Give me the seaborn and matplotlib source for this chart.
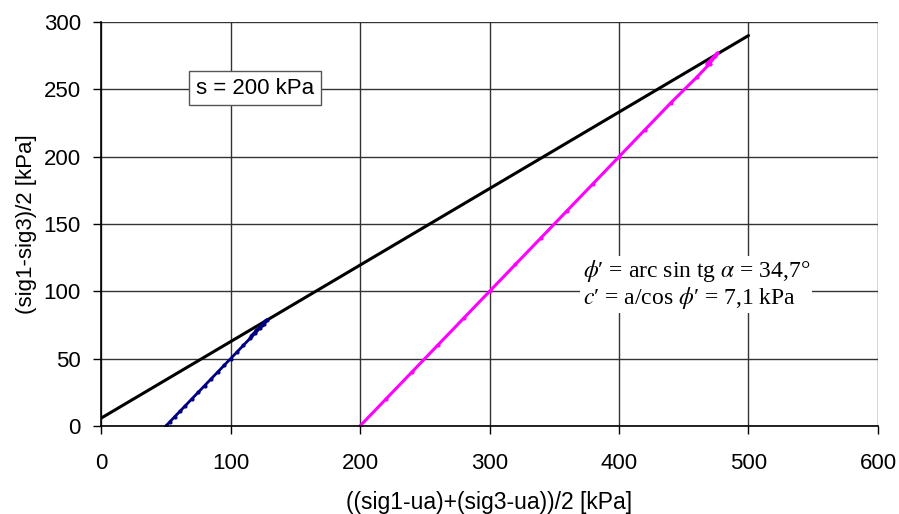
import seaborn as sns
import matplotlib.pyplot as plt
import pandas as pd

# test at suction s = 200 kPa
low_p = [50, 53, 57, 61, 65, 70, 75, 80, 85, 90, 95, 100, 105, 110, 115, 119, 123, 126, 128, 127, 124, 120, 116]
low_q = [0, 3, 7, 11, 15, 20, 25, 30, 35, 40, 45, 50, 55, 60, 65, 69, 73, 76, 79, 78, 75, 71, 67]
high_p = [200, 220, 240, 260, 280, 300, 320, 340, 360, 380, 400, 420, 440, 460, 470, 476, 474, 468]
high_q = [0, 20, 40, 60, 80, 100, 120, 140, 160, 180, 200, 220, 240, 259, 269, 277, 275, 269]
env_p = [0, 500]
env_q = [5.8, 290]

low = pd.DataFrame({'p': low_p, 'q': low_q})
high = pd.DataFrame({'p': high_p, 'q': high_q})
env = pd.DataFrame({'p': env_p, 'q': env_q})

sns.set_style('ticks')
plt.rcParams['font.family'] = ['Liberation Sans', 'DejaVu Sans']
plt.rcParams['mathtext.fontset'] = 'stix'
plt.rcParams['text.color'] = 'black'
plt.rcParams['axes.labelcolor'] = 'black'

fig = plt.figure(figsize=(8.99, 5.14), dpi=100)
ax = fig.add_axes([0.1124, 0.1712, 0.8642, 0.7858])

sns.lineplot(data=env, x='p', y='q', ax=ax, color='black', linewidth=2.2, sort=False)
sns.lineplot(data=low, x='p', y='q', ax=ax, color='#000080', linewidth=2, sort=False,
             marker='o', markersize=3, markeredgewidth=0)
sns.lineplot(data=high, x='p', y='q', ax=ax, color='#FF00FF', linewidth=2.2, sort=False,
             marker='o', markersize=3, markeredgewidth=0)

ax.set_xlim(0, 600)
ax.set_ylim(0, 300)
ax.set_xticks(range(0, 601, 100))
ax.set_yticks(range(0, 301, 50))
ax.grid(True, color='#333333', linewidth=1)
ax.set_axisbelow(True)
for side in ['top', 'right']:
    ax.spines[side].set_visible(False)
for side in ['left', 'bottom']:
    ax.spines[side].set_color('black')
    ax.spines[side].set_linewidth(1.2)
ax.tick_params(direction='out', length=5.5, width=1, colors='black', labelsize=16)
ax.tick_params(axis='x', pad=14)
ax.tick_params(axis='y', pad=9)

ax.set_xlabel('((sig1-ua)+(sig3-ua))/2 [kPa]', fontsize=16.5, labelpad=12)
ax.set_ylabel('(sig1-sig3)/2 [kPa]', fontsize=16, labelpad=5)

ax.text(119, 251, 's = 200 kPa', fontsize=16, ha='center', va='center',
        bbox=dict(boxstyle='square,pad=0.3', facecolor='white', edgecolor='#555555', linewidth=1))

ax.text(372, 105, "$\\phi$′ = arc sin tg $\\alpha$ = 34,7°\n"
        "$c$′ = a/cos $\\phi$′ = 7,1 kPa",
        fontsize=17, ha='left', va='center', linespacing=1.05,
        family=['Liberation Serif', 'DejaVu Serif'],
        bbox=dict(boxstyle='square,pad=0.1', facecolor='white', edgecolor='none'))

fig.savefig('out.png', dpi=100)
